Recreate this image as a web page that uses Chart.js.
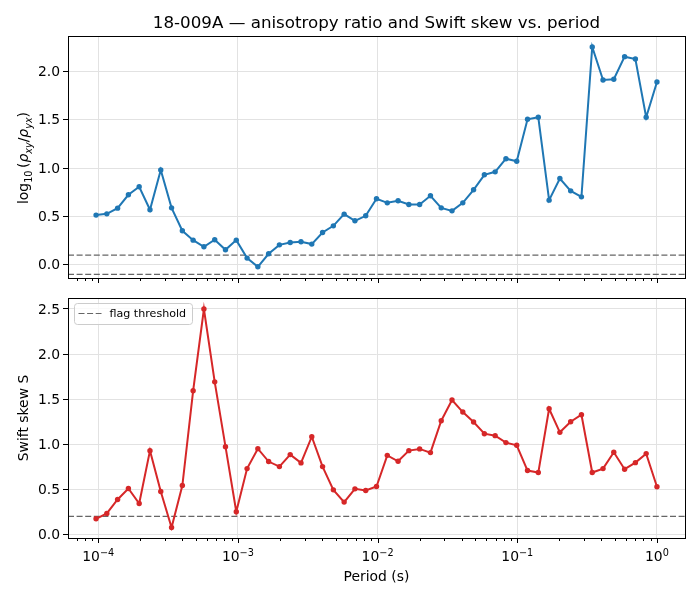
<!DOCTYPE html>
<html>
<head>
<meta charset="utf-8">
<script src="https://cdn.jsdelivr.net/npm/chart.js@4.4.1/dist/chart.umd.min.js"></script>
<style>
  html, body { margin: 0; padding: 0; background: #fff; }
  #wrap { position: relative; width: 700px; height: 600px; }
  canvas { position: absolute; left: 0; }
  #topChart { top: 0; }
  #botChart { top: 290px; }
</style>
</head>
<body>
<div id="wrap">
  <canvas id="topChart" width="700" height="290"></canvas>
  <canvas id="botChart" width="700" height="310"></canvas>
</div>
<script>
// periods (s), 53 frequencies from 10368 Hz down to 1 Hz
const periods = [
  9.645e-5, 1.152e-4, 1.376e-4, 1.644e-4, 1.964e-4, 2.347e-4, 2.803e-4, 3.349e-4, 4.001e-4, 4.779e-4,
  5.709e-4, 6.820e-4, 8.148e-4, 9.733e-4, 1.163e-3, 1.389e-3, 1.659e-3, 1.982e-3, 2.368e-3, 2.829e-3,
  3.379e-3, 4.037e-3, 4.823e-3, 5.761e-3, 6.883e-3, 8.222e-3, 9.822e-3, 1.173e-2, 1.402e-2, 1.674e-2,
  2.000e-2, 2.390e-2, 2.855e-2, 3.410e-2, 4.074e-2, 4.866e-2, 5.814e-2, 6.945e-2, 8.296e-2, 9.910e-2,
  1.184e-1, 1.414e-1, 1.690e-1, 2.018e-1, 2.411e-1, 2.880e-1, 3.441e-1, 4.111e-1, 4.910e-1, 5.866e-1,
  7.008e-1, 8.372e-1, 1.0
];
const anisoRatio = [
  0.514, 0.527, 0.586, 0.724, 0.807, 0.569, 0.982, 0.589, 0.352, 0.255,
  0.186, 0.259, 0.155, 0.255, 0.069, -0.021, 0.114, 0.206, 0.230, 0.238,
  0.214, 0.334, 0.403, 0.524, 0.455, 0.507, 0.683, 0.641, 0.662, 0.624,
  0.624, 0.714, 0.589, 0.558, 0.641, 0.776, 0.931, 0.962, 1.098, 1.072,
  1.506, 1.527, 0.669, 0.893, 0.765, 0.703, 2.254, 1.913, 1.920, 2.154,
  2.130, 1.527, 1.892
];
const swiftSkew = [
  0.173, 0.232, 0.387, 0.509, 0.343, 0.929, 0.476, 0.077, 0.542, 1.593,
  2.500, 1.692, 0.973, 0.251, 0.730, 0.951, 0.808, 0.752, 0.885, 0.793,
  1.084, 0.752, 0.494, 0.358, 0.505, 0.487, 0.531, 0.877, 0.811, 0.929,
  0.948, 0.907, 1.261, 1.490, 1.357, 1.246, 1.117, 1.095, 1.018, 0.988,
  0.708, 0.686, 1.394, 1.132, 1.250, 1.327, 0.686, 0.730, 0.911, 0.723,
  0.796, 0.896, 0.528
];
const anisoRefLines = [0.1, -0.1];
const skewThreshold = [0.2];
const yTicksTop = [0, 0.5, 1.0, 1.5, 2.0];
const yTicksBot = [0, 0.5, 1.0, 1.5, 2.0, 2.5];
const xDecades = [-4, -3, -2, -1, 0];

const FONT = '"DejaVu Sans", sans-serif';
const X_MIN = Math.pow(10, -4.2165);
const X_MAX = Math.pow(10, 0.2008);
const GRID = '#e2e2e2';
const REF = '#666666';

Chart.defaults.font.family = FONT;
Chart.defaults.font.size = 13.9;
Chart.defaults.color = '#000';

const isDecade = v => Math.abs(Math.log10(v) - Math.round(Math.log10(v))) < 1e-6;

function xTickValues() {
  const out = [];
  for (let e = -5; e <= 0; e++) {
    for (let m = 1; m <= 9; m++) {
      const v = m * Math.pow(10, e);
      if (v >= X_MIN && v <= X_MAX) out.push(v);
    }
  }
  return out;
}

function fontOf(s) {
  return (s.italic ? 'italic ' : '') + s.size + 'px ' + FONT;
}

// mixed-size text run, centred on x
function drawRich(ctx, segs, x, y) {
  let w = 0;
  segs.forEach(s => {
    if (s.gap) { s.w = s.gap; } else { ctx.font = fontOf(s); s.w = ctx.measureText(s.t).width; }
    w += s.w;
  });
  let cx = x - w / 2;
  ctx.textAlign = 'left';
  ctx.textBaseline = 'alphabetic';
  segs.forEach(s => {
    if (!s.gap) { ctx.font = fontOf(s); ctx.fillText(s.t, cx, y + (s.dy || 0)); }
    cx += s.w;
  });
}

/* === ref lines, ticks, frame, labels === */
const panelPlugin = {
  id: 'panel',
  beforeDatasetsDraw(chart, args, opts) {
    const { ctx, chartArea: a, scales } = chart;
    ctx.save();
    ctx.strokeStyle = REF;
    ctx.lineWidth = 1.2;
    ctx.setLineDash([6, 2.6]);
    (opts.refLines || []).forEach(v => {
      const y = scales.y.getPixelForValue(v);
      ctx.beginPath();
      ctx.moveTo(a.left, y);
      ctx.lineTo(a.right, y);
      ctx.stroke();
    });
    ctx.restore();
  },
  afterDraw(chart, args, opts) {
    const { ctx, chartArea: a, scales } = chart;
    const xs = scales.x;
    ctx.save();
    ctx.fillStyle = '#000';

    // x tick marks (major + minor)
    ctx.strokeStyle = '#000';
    ctx.lineWidth = 1;
    xs.ticks.forEach(t => {
      const px = Math.round(xs.getPixelForValue(t.value)) + 0.5;
      const len = isDecade(t.value) ? 5 : 3;
      ctx.beginPath();
      ctx.moveTo(px, a.bottom);
      ctx.lineTo(px, a.bottom + len);
      ctx.stroke();
    });

    // frame
    ctx.strokeRect(Math.round(a.left) + 0.5, Math.round(a.top) + 0.5,
      Math.round(a.right - a.left), Math.round(a.bottom - a.top));

    // x tick labels 10^n
    if (opts.xLabels) {
      xDecades.forEach(e => {
        const px = xs.getPixelForValue(Math.pow(10, e));
        const exp = e < 0 ? '\u2212' + Math.abs(e) : String(e);
        drawRich(ctx, [
          { t: '10', size: 13.9 },
          { t: exp, size: 9.7, dy: -5.2 }
        ], px, a.bottom + 23);
      });
      ctx.font = '13.9px ' + FONT;
      ctx.textAlign = 'center';
      ctx.fillText('Period (s)', (a.left + a.right) / 2, a.bottom + 43);
    }

    // title
    if (opts.title) {
      ctx.font = '16.7px ' + FONT;
      ctx.textAlign = 'center';
      ctx.textBaseline = 'alphabetic';
      ctx.fillText(opts.title, (a.left + a.right) / 2, 28);
    }

    // y axis label, rotated
    ctx.save();
    ctx.translate(28, (a.top + a.bottom) / 2 + (opts.yShift || 0));
    ctx.rotate(-Math.PI / 2);
    drawRich(ctx, opts.yLabel, 0, 0);
    ctx.restore();

    // legend box
    if (opts.legend) {
      const lx = a.left + 6.5, ly = a.top + 5.5, lw = 118, lh = 21;
      ctx.beginPath();
      ctx.roundRect(lx, ly, lw, lh, 3);
      ctx.fillStyle = 'rgba(255,255,255,0.8)';
      ctx.fill();
      ctx.strokeStyle = '#cccccc';
      ctx.stroke();
      ctx.strokeStyle = REF;
      ctx.lineWidth = 1.2;
      ctx.setLineDash([6, 2.6]);
      ctx.beginPath();
      ctx.moveTo(lx + 4, ly + 10);
      ctx.lineTo(lx + 27, ly + 10);
      ctx.stroke();
      ctx.setLineDash([]);
      ctx.fillStyle = '#000';
      ctx.font = '11.1px ' + FONT;
      ctx.textAlign = 'left';
      ctx.textBaseline = 'middle';
      ctx.fillText(opts.legend, lx + 35, ly + 10.5);
    }
    ctx.restore();
  }
};

function makePanel(id, values, color, yMin, yMax, yTicks, xAxisH, pad, panelOpts) {
  return new Chart(document.getElementById(id), {
    type: 'line',
    data: {
      datasets: [{
        data: periods.map((p, i) => ({ x: p, y: values[i] })),
        borderColor: color,
        backgroundColor: color,
        borderWidth: 2,
        pointRadius: 2.7,
        pointBorderWidth: 0,
        pointBackgroundColor: color,
        tension: 0
      }]
    },
    options: {
      responsive: false,
      animation: false,
      devicePixelRatio: 1,
      layout: { padding: pad },
      scales: {
        x: {
          type: 'logarithmic',
          min: X_MIN,
          max: X_MAX,
          afterBuildTicks: s => { s.ticks = xTickValues().map(v => ({ value: v, major: isDecade(v) })); },
          afterFit: s => { s.height = xAxisH; s.paddingLeft = 0; s.paddingRight = 0; },
          ticks: { display: false },
          border: { display: false },
          grid: {
            drawTicks: false,
            lineWidth: 1,
            color: c => (c.tick && isDecade(c.tick.value)) ? GRID : 'rgba(0,0,0,0)'
          }
        },
        y: {
          min: yMin,
          max: yMax,
          afterBuildTicks: s => { s.ticks = yTicks.map(v => ({ value: v })); },
          afterFit: s => { s.width = 68; s.paddingTop = 0; s.paddingBottom = 0; },
          ticks: { padding: 3, labelOffset: 1, callback: v => Number(v).toFixed(1), font: { size: 13.9 } },
          border: { display: false },
          grid: { color: GRID, lineWidth: 1, tickLength: 5, tickColor: '#000', tickWidth: 1 }
        }
      },
      plugins: {
        legend: { display: false },
        tooltip: { enabled: false },
        panel: panelOpts
      }
    },
    plugins: [panelPlugin]
  });
}

makePanel('topChart', anisoRatio, '#1f77b4', -0.137, 2.368, yTicksTop, 12,
  { top: 36, right: 15, left: 0, bottom: 0 },
  {
    refLines: anisoRefLines,
    title: '18-009A \u2014 anisotropy ratio and Swift skew vs. period',
    yShift: 1,
    yLabel: [
      { t: 'log', size: 13.9 },
      { t: '10', size: 9.7, dy: 3.5 },
      { gap: 2.5 },
      { t: '(', size: 13.9 },
      { t: '\u03c1', size: 13.9, italic: true },
      { t: 'xy', size: 9.7, italic: true, dy: 3.5 },
      { t: '/', size: 13.9 },
      { t: '\u03c1', size: 13.9, italic: true },
      { t: 'yx', size: 9.7, italic: true, dy: 3.5 },
      { t: ')', size: 13.9 }
    ]
  });

makePanel('botChart', swiftSkew, '#d62728', -0.04, 2.622, yTicksBot, 62,
  { top: 8, right: 15, left: 0, bottom: 0 },
  {
    refLines: skewThreshold,
    xLabels: true,
    legend: 'flag threshold',
    yLabel: [{ t: 'Swift skew S', size: 13.9 }]
  });
</script>
</body>
</html>
